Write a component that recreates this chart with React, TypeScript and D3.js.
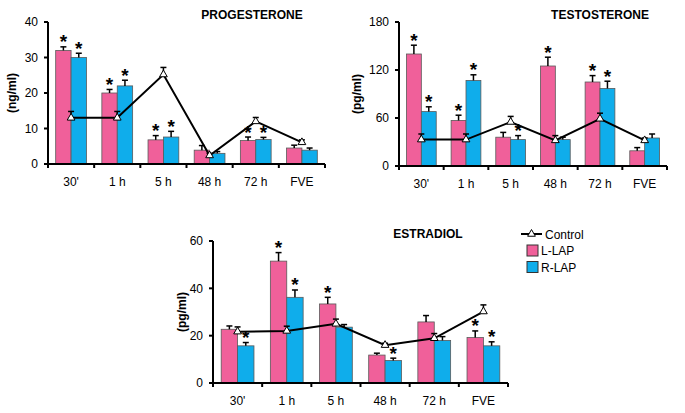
import React from "react";
import * as d3 from "d3";

const categories = ["30'", "1 h", "5 h", "48 h", "72 h", "FVE"];

const progL = [32, 20, 6.8, 3.9, 6.6, 4.5];
const progLErr = [1, 1, 1.2, 1.3, 1, 0.8];
const progR = [30, 22, 7.6, 3, 6.9, 3.9];
const progRErr = [1.2, 1.6, 1.6, 0.5, 0.6, 0.6];
const progC = [13, 13, 25.2, 2.4, 12, 6.1];
const progCErr = [1.8, 1.8, 2, 0.6, 1.1, 0.7];
const progStarL = [1, 1, 1, 0, 1, 0];
const progStarR = [1, 1, 1, 0, 1, 0];
const progTicks = [0, 10, 20, 30, 40];

const testL = [140, 57, 36, 125, 105, 19];
const testLErr = [11, 6.5, 6, 11, 8, 4];
const testR = [68, 107, 33, 33, 97, 35];
const testRErr = [6, 7, 5, 3, 9, 5];
const testC = [33, 33, 55, 32, 59, 32];
const testCErr = [7, 7, 7, 6, 7, 3];
const testStarL = [1, 1, 0, 1, 1, 0];
const testStarR = [1, 1, 1, 0, 1, 0];
const testTicks = [0, 60, 120, 180];

const estrL = [22.7, 51.5, 33.4, 11.8, 25.8, 19.2];
const estrLErr = [1.4, 3.6, 2.8, 0.8, 2.7, 2.8];
const estrR = [15.7, 36.2, 23.6, 9.5, 18, 15.7];
const estrRErr = [1.4, 3.1, 1.1, 1, 1.6, 1.7];
const estrC = [21.7, 22, 25, 16, 18.9, 30.2];
const estrCErr = [2, 2, 2, 0.8, 2, 2.8];
const estrStarL = [0, 1, 1, 0, 0, 1];
const estrStarR = [1, 1, 0, 1, 0, 1];
const estrTicks = [0, 20, 40, 60];

const PINK = "#F0609A";
const BLUE = "#0FADEB";
const FONT = "Liberation Sans, Arial, sans-serif";

const triPath = d3.symbol().type(d3.symbolTriangle).size(26)() as string;

type PanelProps = {
  x0: number; x1: number; yTop: number; y0: number; max: number; ticks: number[];
  L: number[]; LErr: number[]; R: number[]; RErr: number[]; C: number[]; CErr: number[];
  starL: number[]; starR: number[]; title: string; titleX: number; ylabel: string; ylabelX: number;
};

function ErrBar({ x, y1, y2 }: { x: number; y1: number; y2: number }) {
  return (
    <g stroke="#000" strokeWidth={1.5}>
      <line x1={x} x2={x} y1={y1} y2={y2} />
      <line x1={x - 3} x2={x + 3} y1={y2} y2={y2} />
    </g>
  );
}

function Panel(p: PanelProps) {
  const x = d3.scaleBand<string>().domain(categories).range([p.x0, p.x1]).padding(0);
  const y = d3.scaleLinear().domain([0, p.max]).range([p.y0, p.yTop]);
  const bw = x.bandwidth() / 3;
  const cx = (c: string) => (x(c) as number) + x.bandwidth() / 2;
  const line = d3.line<number>().x((_, i) => cx(categories[i])).y((d) => y(d));
  return (
    <g fontFamily={FONT}>
      {categories.map((c, i) => {
        const xc = cx(c);
        return (
          <g key={c}>
            <rect x={xc - bw} y={y(p.L[i])} width={bw} height={p.y0 - y(p.L[i])} fill={PINK} stroke="#5a5a5a" strokeWidth={0.8} />
            <rect x={xc} y={y(p.R[i])} width={bw} height={p.y0 - y(p.R[i])} fill={BLUE} stroke="#5a5a5a" strokeWidth={0.8} />
            <ErrBar x={xc - bw / 2} y1={y(p.L[i])} y2={y(p.L[i] + p.LErr[i])} />
            <ErrBar x={xc + bw / 2} y1={y(p.R[i])} y2={y(p.R[i] + p.RErr[i])} />
            {p.starL[i] ? (
              <text x={xc - bw / 2} y={y(p.L[i] + p.LErr[i]) + 1.5} textAnchor="middle" fontSize={19} fontWeight="bold">*</text>
            ) : null}
            {p.starR[i] ? (
              <text x={xc + bw / 2} y={y(p.R[i] + p.RErr[i]) + 1.5} textAnchor="middle" fontSize={19} fontWeight="bold">*</text>
            ) : null}
            <ErrBar x={xc} y1={y(p.C[i])} y2={y(p.C[i] + p.CErr[i])} />
          </g>
        );
      })}
      <path d={line(p.C) as string} fill="none" stroke="#000" strokeWidth={2} />
      {categories.map((c, i) => (
        <path key={c} d={triPath} transform={`translate(${cx(c)},${y(p.C[i])})`} fill="#fff" stroke="#000" strokeWidth={1} />
      ))}
      <line x1={p.x0} x2={p.x0} y1={p.yTop} y2={p.y0 + 1} stroke="#000" strokeWidth={2} />
      <line x1={p.x0 - 1} x2={p.x1} y1={p.y0} y2={p.y0} stroke="#000" strokeWidth={2} />
      {p.ticks.map((t) => (
        <g key={t}>
          <line x1={p.x0 - 4} x2={p.x0} y1={y(t)} y2={y(t)} stroke="#000" strokeWidth={2} />
          <text x={p.x0 - 10} y={y(t)} dy="0.35em" textAnchor="end" fontSize={12}>{t}</text>
        </g>
      ))}
      {[...categories.map((c) => x(c) as number), p.x1].map((v, i) => (
        <line key={i} x1={v} x2={v} y1={p.y0} y2={p.y0 + 4} stroke="#000" strokeWidth={2} />
      ))}
      {categories.map((c) => (
        <text key={c} x={cx(c)} y={p.y0 + 22} textAnchor="middle" fontSize={12}>{c}</text>
      ))}
      <text x={p.titleX} y={p.yTop - 3.5} textAnchor="middle" fontSize={12} fontWeight="bold">{p.title}</text>
      <text transform={`translate(${p.ylabelX},${(p.yTop + p.y0) / 2}) rotate(-90)`} textAnchor="middle" dominantBaseline="central" fontSize={12} fontWeight="bold">{p.ylabel}</text>
    </g>
  );
}

export default function App() {
  return (
    <svg width={685} height={413} style={{ position: "absolute", left: 0, top: 0, background: "#fff" }}>
      <rect width={685} height={413} fill="#fff" />
      <Panel x0={48} x1={325} yTop={22} y0={164} max={40} ticks={progTicks}
        L={progL} LErr={progLErr} R={progR} RErr={progRErr} C={progC} CErr={progCErr}
        starL={progStarL} starR={progStarR} title="PROGESTERONE" titleX={252} ylabel="(ng/ml)" ylabelX={12} />
      <Panel x0={399} x1={667} yTop={22} y0={166} max={180} ticks={testTicks}
        L={testL} LErr={testLErr} R={testR} RErr={testRErr} C={testC} CErr={testCErr}
        starL={testStarL} starR={testStarR} title="TESTOSTERONE" titleX={600} ylabel="(pg/ml)" ylabelX={357} />
      <Panel x0={213} x1={508} yTop={241} y0={383} max={60} ticks={estrTicks}
        L={estrL} LErr={estrLErr} R={estrR} RErr={estrRErr} C={estrC} CErr={estrCErr}
        starL={estrStarL} starR={estrStarR} title="ESTRADIOL" titleX={428} ylabel="(pg/ml)" ylabelX={182} />
      <g fontFamily={FONT} fontSize={12}>
        <line x1={521} x2={542} y1={234} y2={234} stroke="#000" strokeWidth={2} />
        <path d={triPath} transform="translate(531.5,234)" fill="#fff" stroke="#000" strokeWidth={1} />
        <text x={545} y={238.5}>Control</text>
        <rect x={527} y={245} width={11} height={11} fill={PINK} stroke="#333" strokeWidth={1} />
        <text x={541} y={255}>L-LAP</text>
        <rect x={527} y={261.5} width={11} height={11} fill={BLUE} stroke="#333" strokeWidth={1} />
        <text x={541} y={271.5}>R-LAP</text>
      </g>
    </svg>
  );
}
